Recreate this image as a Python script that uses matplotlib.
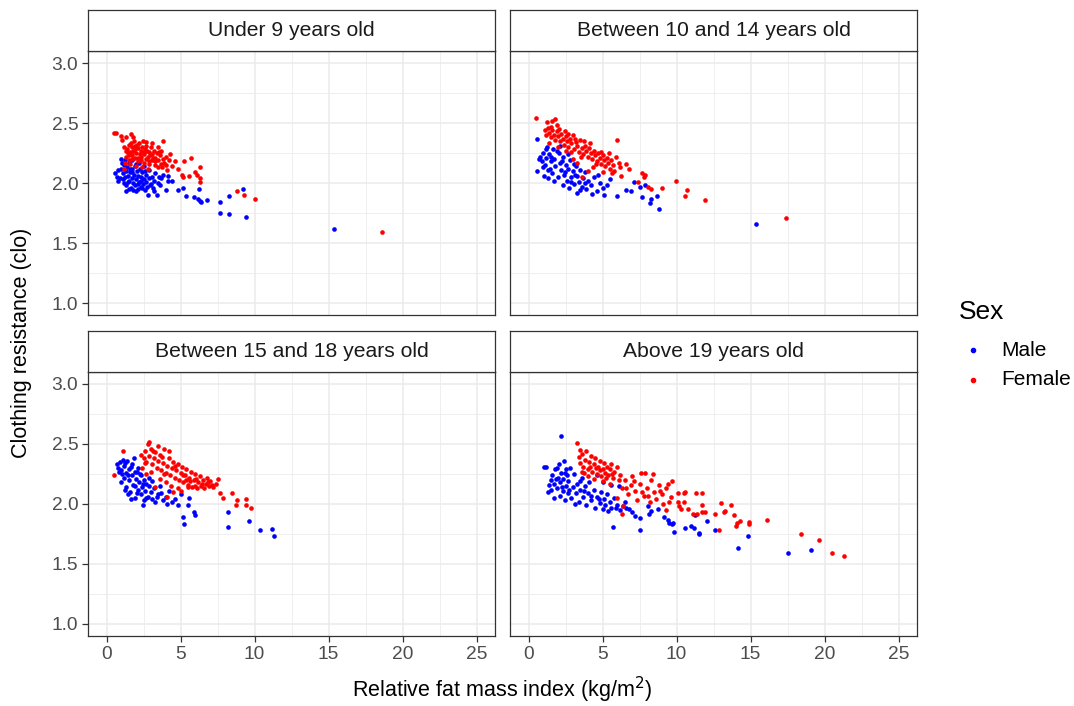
import matplotlib
matplotlib.use("Agg")
import matplotlib.pyplot as plt
from matplotlib.lines import Line2D
from matplotlib.ticker import MultipleLocator
import numpy as np

plt.rcParams['font.family'] = ['Liberation Sans', 'DejaVu Sans']

# ---- data: (relative fat mass index, clothing resistance) ----
under9_male = [
    (0.6, 2.08), (0.7, 2.05), (0.8, 2.02), (0.95, 2.20), (1.0, 2.12), (1.1, 2.08), (1.15, 2.15),
    (1.2, 2.00), (1.25, 2.05), (1.3, 2.10), (1.35, 1.98), (1.4, 2.13), (1.45, 2.06), (1.5, 2.02),
    (1.55, 2.17), (1.6, 2.09), (1.65, 1.96), (1.7, 2.04), (1.75, 2.12), (1.8, 2.00), (1.85, 2.07),
    (1.9, 2.14), (1.95, 1.98), (2.0, 2.03), (2.05, 2.10), (2.1, 1.95), (2.15, 2.06), (2.2, 2.01),
    (2.25, 2.12), (2.3, 1.97), (2.35, 2.05), (2.4, 2.09), (2.45, 1.99), (2.5, 2.03), (2.55, 2.14),
    (2.6, 1.94), (2.65, 2.01), (2.7, 2.07), (2.75, 1.97), (2.8, 1.90), (2.85, 2.04), (2.9, 2.11),
    (3.0, 1.99), (3.1, 2.05), (3.15, 1.96), (3.2, 2.02), (3.3, 2.08), (3.4, 1.90), (3.5, 2.00),
    (3.6, 1.98), (3.7, 2.04), (3.85, 2.07), (4.0, 1.94), (4.15, 2.06), (4.15, 2.02), (4.45, 2.02),
    (1.35, 1.93), (1.05, 2.17), (0.9, 2.04), (1.7, 2.19), (2.2, 2.17), (1.5, 1.95), (2.0, 1.93),
    (1.12, 2.03), (1.42, 2.01), (1.72, 2.09), (2.02, 2.16), (2.32, 2.02), (2.62, 2.10), (2.92, 1.98),
    (3.22, 1.93), (1.22, 2.19), (1.82, 1.94), (2.42, 1.96), (3.55, 2.05), (0.75, 2.11), (1.58, 2.12),
    (2.12, 1.99),
    (4.85, 1.94), (5.15, 1.96), (5.35, 1.89), (5.9, 1.88), (6.15, 1.87), (6.25, 1.95), (6.3, 1.85),
    (6.4, 1.84), (6.8, 1.86), (7.65, 1.84), (7.7, 1.75), (8.3, 1.89), (8.25, 1.74), (9.25, 1.95),
    (9.4, 1.72), (15.4, 1.62),
]
under9_female = [
    (0.5, 2.42), (0.65, 2.42), (0.95, 2.39), (1.3, 2.38), (1.65, 2.41), (1.78, 2.38), (1.05, 2.36),
    (3.85, 2.35), (1.2, 2.30), (1.4, 2.28), (1.5, 2.32), (1.6, 2.26), (1.7, 2.30), (1.8, 2.27),
    (1.9, 2.31), (2.0, 2.25), (2.1, 2.29), (2.2, 2.33), (2.3, 2.27), (2.4, 2.30), (2.5, 2.24),
    (2.6, 2.28), (2.7, 2.31), (2.8, 2.22), (2.9, 2.26), (3.0, 2.30), (3.1, 2.24), (3.2, 2.27),
    (3.3, 2.21), (3.4, 2.25), (3.5, 2.19), (3.6, 2.23), (3.7, 2.27), (3.8, 2.20), (3.9, 2.17),
    (4.0, 2.22), (4.2, 2.19), (4.4, 2.14), (4.6, 2.18), (1.3, 2.22), (1.5, 2.19), (1.7, 2.23),
    (1.9, 2.21), (2.1, 2.18), (2.3, 2.22), (2.5, 2.17), (2.7, 2.20), (2.9, 2.16), (3.1, 2.19),
    (3.3, 2.15), (3.5, 2.13), (1.6, 2.16), (2.0, 2.14), (2.4, 2.13), (2.8, 2.12), (1.2, 2.12),
    (1.45, 2.25), (1.85, 2.35), (2.25, 2.24), (2.65, 2.34), (3.05, 2.33), (3.45, 2.30), (2.15, 2.21),
    (1.75, 2.20), (2.55, 2.26), (3.25, 2.18), (3.65, 2.16), (4.1, 2.11), (4.3, 2.24),
    (1.35, 2.27), (1.55, 2.23), (1.95, 2.28), (2.35, 2.19), (2.75, 2.27), (3.15, 2.21), (3.55, 2.26),
    (1.65, 2.33), (2.45, 2.35), (2.85, 2.18), (3.75, 2.13), (4.05, 2.15), (1.25, 2.17), (2.05, 2.32),
    (2.95, 2.23),
    (4.8, 2.12), (5.1, 2.07), (5.2, 2.05), (5.25, 2.18), (5.6, 2.06), (5.7, 2.21), (6.0, 2.09),
    (6.1, 2.07), (6.3, 2.13), (6.3, 2.01), (6.35, 2.04), (8.85, 1.93), (9.3, 1.90), (10.0, 1.87),
    (18.6, 1.59),
]
age10_14_male = [
    (0.6, 2.37), (0.55, 2.10), (0.8, 2.22), (0.9, 2.18), (1.0, 2.25), (1.1, 2.15), (1.2, 2.21),
    (1.3, 2.11), (1.4, 2.24), (1.5, 2.18), (1.6, 2.08), (1.7, 2.20), (1.8, 2.14), (1.9, 2.27),
    (2.0, 2.05), (2.1, 2.17), (2.2, 2.11), (2.3, 2.22), (2.4, 2.07), (2.5, 2.15), (2.6, 2.02),
    (2.7, 2.12), (2.8, 2.19), (2.9, 2.05), (3.0, 2.10), (3.1, 1.99), (3.2, 2.14), (3.3, 2.06),
    (3.4, 2.01), (3.5, 2.11), (3.6, 1.97), (3.7, 2.04), (3.8, 2.09), (3.9, 1.95), (4.0, 2.02),
    (4.2, 1.98), (4.4, 2.05), (4.6, 1.93), (4.8, 2.00), (5.0, 1.96), (5.1, 1.90), (1.25, 2.30),
    (1.65, 2.28), (2.05, 2.25), (1.35, 2.04), (2.35, 1.98), (2.75, 1.96), (3.25, 1.92), (2.15, 2.31),
    (0.7, 2.20), (1.15, 2.28),
    (0.95, 2.13), (1.45, 2.12), (1.75, 2.02), (2.25, 2.18), (2.65, 2.24), (3.05, 2.16), (3.45, 1.94),
    (3.85, 2.00), (4.3, 1.91), (4.7, 2.07), (1.05, 2.06), (2.45, 2.09), (3.15, 2.07), (1.55, 2.22),
    (2.85, 2.01),
    (5.5, 2.03), (5.3, 1.98), (6.0, 1.89), (6.6, 1.94), (7.1, 2.01),
    (6.9, 1.93), (7.5, 1.97), (7.9, 1.98), (7.7, 1.88), (8.3, 1.87), (8.2, 1.83), (8.7, 1.89),
    (8.85, 1.78), (15.4, 1.66),
]
age10_14_female = [
    (0.5, 2.54), (1.25, 2.51), (1.6, 2.52), (1.8, 2.53), (1.1, 2.44), (1.2, 2.40), (1.3, 2.46),
    (1.4, 2.42), (1.5, 2.38), (1.6, 2.44), (1.7, 2.40), (1.8, 2.36), (1.9, 2.43), (2.0, 2.39),
    (2.1, 2.35), (2.2, 2.41), (2.3, 2.37), (2.4, 2.32), (2.5, 2.39), (2.6, 2.35), (2.7, 2.30),
    (2.8, 2.37), (2.9, 2.33), (3.0, 2.40), (3.1, 2.28), (3.2, 2.34), (3.3, 2.31), (3.4, 2.26),
    (3.5, 2.36), (3.6, 2.29), (3.7, 2.24), (3.8, 2.31), (3.9, 2.27), (4.0, 2.22), (4.1, 2.29),
    (4.2, 2.25), (4.3, 2.20), (4.4, 2.27), (4.5, 2.23), (4.6, 2.18), (4.7, 2.25), (4.8, 2.21),
    (4.9, 2.16), (5.0, 2.23), (5.1, 2.19), (5.2, 2.14), (5.3, 2.21), (5.4, 2.17), (5.5, 2.12),
    (5.6, 2.19), (5.7, 2.15), (5.8, 2.10), (5.9, 2.22), (6.0, 2.36), (6.1, 2.17), (6.2, 2.13),
    (6.25, 2.06), (2.0, 2.30), (2.5, 2.27), (3.0, 2.20), (1.4, 2.33), (3.3, 2.17), (4.0, 2.10),
    (3.6, 2.05), (4.9, 2.26),
    (1.55, 2.47), (2.05, 2.45), (2.45, 2.43), (2.85, 2.26), (3.15, 2.37), (3.55, 2.22), (4.15, 2.33),
    (4.55, 2.16), (5.05, 2.09), (5.45, 2.25), (2.65, 2.41), (1.95, 2.48), (3.75, 2.35), (4.35, 2.13),
    (5.65, 2.08),
    (6.6, 2.16), (6.8, 2.12), (7.7, 2.08), (7.85, 2.07), (7.8, 2.05),
    (7.4, 2.01), (8.05, 1.97), (8.3, 1.95), (9.0, 1.96), (9.97, 2.02), (10.7, 1.94), (10.6, 1.89),
    (11.9, 1.86), (17.4, 1.71),
]
age15_18_male = [
    (0.7, 2.33), (0.8, 2.30), (0.9, 2.35), (0.95, 2.18), (1.0, 2.28), (1.1, 2.37), (1.15, 2.22),
    (1.2, 2.32), (1.3, 2.26), (1.35, 2.14), (1.4, 2.36), (1.5, 2.20), (1.55, 2.29), (1.6, 2.10),
    (1.7, 2.24), (1.75, 2.33), (1.8, 2.16), (1.9, 2.27), (1.95, 2.05), (2.0, 2.21), (2.1, 2.12),
    (2.15, 2.30), (2.2, 2.18), (2.3, 2.08), (2.35, 2.24), (2.4, 2.14), (2.5, 2.20), (2.55, 2.03),
    (2.6, 2.11), (2.7, 2.17), (2.8, 2.06), (2.9, 2.22), (3.0, 2.10), (3.1, 2.04), (3.2, 2.13),
    (3.3, 2.02), (3.5, 2.08), (3.6, 2.15), (3.8, 2.03), (4.0, 2.06), (4.2, 2.11), (4.4, 2.02),
    (4.6, 2.04), (4.8, 1.99), (5.0, 2.08), (1.25, 2.12), (1.65, 2.04), (2.05, 2.27), (2.45, 1.99),
    (1.45, 2.24), (1.85, 2.38),
    (1.05, 2.25), (1.25, 2.34), (1.45, 2.08), (1.65, 2.31), (1.95, 2.15), (2.25, 2.25), (2.45, 2.17),
    (2.65, 2.05), (2.85, 2.15), (3.05, 2.19), (3.4, 2.06), (3.7, 2.09), (4.1, 2.00), (0.85, 2.27),
    (2.05, 2.09),
    (5.2, 1.89), (5.25, 1.83), (5.5, 1.99), (5.6, 2.05), (5.9, 1.93),
    (6.0, 1.91), (8.2, 1.93), (8.2, 1.81), (9.6, 1.86), (10.4, 1.78), (11.2, 1.79), (11.3, 1.73),
]
age15_18_female = [
    (0.5, 2.24), (1.1, 2.44), (2.9, 2.52), (2.8, 2.50), (2.3, 2.41), (2.5, 2.38), (2.6, 2.44),
    (2.7, 2.35), (2.9, 2.40), (3.0, 2.46), (3.1, 2.33), (3.2, 2.38), (3.3, 2.43), (3.4, 2.30),
    (3.5, 2.36), (3.6, 2.41), (3.7, 2.28), (3.8, 2.34), (3.9, 2.46), (4.0, 2.26), (4.1, 2.32),
    (4.2, 2.38), (4.3, 2.24), (4.4, 2.30), (4.5, 2.35), (4.6, 2.22), (4.7, 2.28), (4.8, 2.33),
    (4.9, 2.20), (5.0, 2.26), (5.1, 2.31), (5.2, 2.18), (5.3, 2.24), (5.4, 2.29), (5.5, 2.16),
    (5.6, 2.22), (5.7, 2.27), (5.8, 2.14), (5.9, 2.20), (6.0, 2.25), (6.1, 2.13), (6.2, 2.18),
    (6.3, 2.23), (6.4, 2.15), (6.5, 2.20), (6.6, 2.13), (6.7, 2.17), (6.8, 2.22), (6.9, 2.15),
    (7.0, 2.19), (7.2, 2.14), (7.4, 2.17), (7.5, 2.21), (4.5, 2.10), (4.1, 2.06), (5.0, 2.11),
    (5.5, 2.14), (2.4, 2.30), (3.0, 2.27), (3.6, 2.21), (4.0, 2.18), (6.0, 2.15), (2.7, 2.25),
    (3.3, 2.14), (4.8, 2.13),
    (3.15, 2.44), (3.45, 2.48), (3.75, 2.39), (4.25, 2.44), (4.65, 2.32), (5.15, 2.24), (5.65, 2.19),
    (6.05, 2.21), (6.45, 2.17), (6.85, 2.18), (7.1, 2.16), (4.35, 2.15), (5.35, 2.20), (2.6, 2.34),
    (3.9, 2.25),
    (7.7, 2.09), (7.9, 2.05), (8.45, 2.09), (8.8, 2.03), (8.75, 1.99),
    (9.45, 2.04), (9.4, 1.99), (9.75, 1.97),
]
above19_male = [
    (1.07, 2.31), (1.18, 2.31), (1.3, 2.10), (2.2, 2.57), (1.5, 2.20), (1.6, 2.24), (1.7, 2.17),
    (1.8, 2.29), (1.9, 2.13), (2.0, 2.22), (2.05, 2.33), (2.1, 2.07), (2.15, 2.18), (2.2, 2.26),
    (2.3, 2.11), (2.35, 2.21), (2.4, 2.36), (2.45, 2.03), (2.5, 2.15), (2.6, 2.24), (2.65, 2.09),
    (2.7, 2.19), (2.8, 2.30), (2.9, 2.05), (3.0, 2.14), (1.4, 2.16), (1.75, 2.05), (2.55, 2.29),
    (3.05, 2.25), (3.2, 2.09), (3.3, 2.17), (3.4, 2.02), (3.5, 2.12), (3.6, 2.22), (3.7, 2.06),
    (3.8, 2.15), (3.9, 1.99), (4.0, 2.09), (4.1, 2.18), (4.2, 2.03), (4.4, 2.12), (4.5, 1.97),
    (4.6, 2.06), (4.8, 2.01), (4.9, 2.10), (5.0, 1.96), (5.1, 2.04), (5.2, 1.99), (5.3, 2.08),
    (5.5, 2.02), (5.6, 1.97), (5.8, 2.05), (6.0, 1.99), (6.2, 1.95), (6.5, 2.02), (6.6, 1.97),
    (6.8, 1.96), (4.6, 2.24), (5.0, 2.18), (5.6, 2.16), (6.1, 2.15),
    (1.55, 2.12), (1.85, 2.21), (2.25, 2.14), (2.75, 2.12), (3.15, 2.00), (3.45, 2.19), (3.75, 2.11),
    (4.25, 2.07), (4.75, 2.04), (5.4, 1.94), (6.4, 1.98), (7.0, 1.93), (2.45, 2.26), (1.95, 2.30),
    (5.9, 1.97),
    (5.73, 1.81), (7.56, 1.78), (7.2, 1.90), (7.5, 1.88), (8.05, 1.98), (8.17, 1.92),
    (8.28, 1.94), (8.73, 1.96), (9.18, 1.89), (9.4, 1.87), (9.5, 1.84), (9.7, 1.83), (9.8, 1.77),
    (9.74, 1.84), (10.6, 1.80), (11.0, 1.82), (11.16, 1.80), (11.5, 1.76), (11.55, 1.75),
    (11.27, 1.91), (12.06, 1.86), (12.6, 1.78), (14.16, 1.63), (14.83, 1.73), (17.5, 1.59),
    (19.1, 1.62),
]
above19_female = [
    (3.3, 2.51), (3.4, 2.39), (3.5, 2.34), (3.6, 2.42), (3.7, 2.31), (3.8, 2.37), (3.9, 2.44),
    (4.0, 2.29), (4.1, 2.35), (4.2, 2.40), (4.3, 2.27), (4.4, 2.33), (4.5, 2.38), (4.6, 2.25),
    (4.7, 2.31), (4.8, 2.36), (4.9, 2.23), (5.0, 2.29), (5.1, 2.34), (5.2, 2.26), (5.3, 2.31),
    (5.4, 2.24), (5.5, 2.29), (5.6, 2.33), (5.7, 2.22), (5.8, 2.27), (6.0, 2.31), (6.1, 2.20),
    (3.6, 2.27), (4.0, 2.23), (4.4, 2.21), (5.0, 2.19), (5.5, 2.17),
    (3.45, 2.45), (3.75, 2.26), (4.15, 2.31), (4.55, 2.30), (4.85, 2.28), (5.25, 2.22), (5.65, 2.25),
    (6.2, 2.24), (6.6, 2.13), (7.1, 2.19), (7.7, 2.10), (8.1, 2.07), (8.9, 2.11), (9.5, 2.02),
    (6.0, 2.05),
    (6.3, 2.13), (6.5, 2.20),
    (6.7, 2.08), (6.9, 2.16), (7.0, 2.23), (7.2, 2.11), (7.3, 2.03), (7.5, 2.17), (7.6, 2.26),
    (7.8, 2.07), (8.0, 2.13), (8.2, 2.02), (8.3, 2.20), (8.5, 2.10), (8.6, 2.04), (8.8, 2.16),
    (9.0, 2.08), (9.1, 2.00), (9.3, 2.13), (9.4, 2.17), (9.6, 2.06), (9.7, 2.19), (10.1, 2.09),
    (10.5, 2.09), (10.6, 2.10), (10.1, 2.02), (10.5, 2.02), (10.2, 1.98), (10.3, 1.96), (10.8, 1.96),
    (11.3, 2.09), (11.7, 2.09), (11.7, 1.99), (11.1, 1.92), (11.4, 1.92), (11.7, 1.93), (11.9, 1.93),
    (12.6, 1.92), (13.0, 2.01), (13.2, 1.93), (13.3, 1.94), (13.7, 1.99), (13.9, 1.91), (14.0, 1.82),
    (14.1, 1.84), (14.3, 1.86), (14.9, 1.85), (14.9, 1.83), (12.9, 1.78), (16.1, 1.87), (18.4, 1.75),
    (19.6, 1.70), (20.5, 1.59), (21.3, 1.57), (6.4, 1.98), (9.3, 1.95), (6.3, 1.92), (7.9, 2.26),
    (8.4, 2.25),
]

panel_titles = ["Under 9 years old", "Between 10 and 14 years old",
                "Between 15 and 18 years old", "Above 19 years old"]
panel_data = [(under9_male, under9_female), (age10_14_male, age10_14_female),
              (age15_18_male, age15_18_female), (above19_male, above19_female)]
sex_labels = ["Male", "Female"]
sex_colors = ["#0000FF", "#FF0000"]

x_ticks = [0, 5, 10, 15, 20, 25]
y_ticks = [1.0, 1.5, 2.0, 2.5, 3.0]

# ---- layout (pixels) ----
W, H = 1074, 706
fig = plt.figure(figsize=(W / 100, H / 100), dpi=100)
fig.patch.set_facecolor("white")

panel_w, panel_h, strip_h = 407, 264, 41
col_left = [88, 510]
row_top = [51, 372]   # top of the plotting panel (strip sits above)

def px_rect(x0, y0, w, h):
    return [x0 / W, 1 - (y0 + h) / H, w / W, h / H]

border_col = "#333333"
tick_col = "#4D4D4D"

for i, (title, (male, female)) in enumerate(zip(panel_titles, panel_data)):
    r, c = divmod(i, 2)
    x0, y0 = col_left[c], row_top[r]
    ax = fig.add_axes(px_rect(x0, y0, panel_w, panel_h))
    ax.set_xlim(-1.25, 26.25)
    ax.set_ylim(0.9, 3.1)
    ax.xaxis.set_major_locator(MultipleLocator(5))
    ax.xaxis.set_minor_locator(MultipleLocator(2.5))
    ax.yaxis.set_major_locator(MultipleLocator(0.5))
    ax.yaxis.set_minor_locator(MultipleLocator(0.25))
    ax.grid(which="major", color="#EBEBEB", linewidth=1.1)
    ax.grid(which="minor", color="#EBEBEB", linewidth=0.55)
    ax.set_axisbelow(True)
    for sp in ax.spines.values():
        sp.set_color(border_col)
        sp.set_linewidth(0.9)

    for pts, col in zip((male, female), sex_colors):
        arr = np.array(pts)
        ax.scatter(arr[:, 0], arr[:, 1], s=11, color=col, linewidths=0, zorder=3)

    ax.tick_params(which="minor", length=0)
    ax.tick_params(which="major", length=4, width=0.9, color="#333333",
                   labelsize=13.8, labelcolor=tick_col, pad=3)
    if c == 0:
        ax.set_yticks(y_ticks)
        ax.set_yticklabels([f"{v:.1f}" for v in y_ticks])
    else:
        ax.tick_params(axis="y", left=False, labelleft=False)
    if r == 1:
        ax.set_xticks(x_ticks)
        ax.set_xticklabels([str(v) for v in x_ticks])
    else:
        ax.tick_params(axis="x", bottom=False, labelbottom=False)

    # strip label above the panel
    sax = fig.add_axes(px_rect(x0, y0 - strip_h, panel_w, strip_h))
    sax.set_xticks([]); sax.set_yticks([])
    sax.set_facecolor("white")
    for sp in sax.spines.values():
        sp.set_color(border_col)
        sp.set_linewidth(0.9)
    sax.text(0.5, 0.5, title, ha="center", va="center", fontsize=15.2,
             color="#1A1A1A", transform=sax.transAxes)

# axis titles
fig.text(502 / W, 1 - 690 / H, "Relative fat mass index (kg/m$^2$)",
         ha="center", va="center", fontsize=15.5, color="black")
fig.text(22 / W, 1 - 343 / H, "Clothing resistance (clo)", rotation=90,
         ha="center", va="center", fontsize=15.5, color="black")

# legend
fig.text(959 / W, 1 - 312 / H, "Sex", ha="left", va="center", fontsize=19, color="black")
for k, (lab, col) in enumerate(zip(sex_labels, sex_colors)):
    yk = 350 + 30 * k
    fig.lines.append(Line2D([973 / W], [1 - yk / H], marker="o", markersize=3,
                            color=col, linestyle="none", transform=fig.transFigure))
    fig.text(1001 / W, 1 - yk / H, lab, ha="left", va="center", fontsize=15, color="black")

fig.savefig("out.png", dpi=100, facecolor="white")
